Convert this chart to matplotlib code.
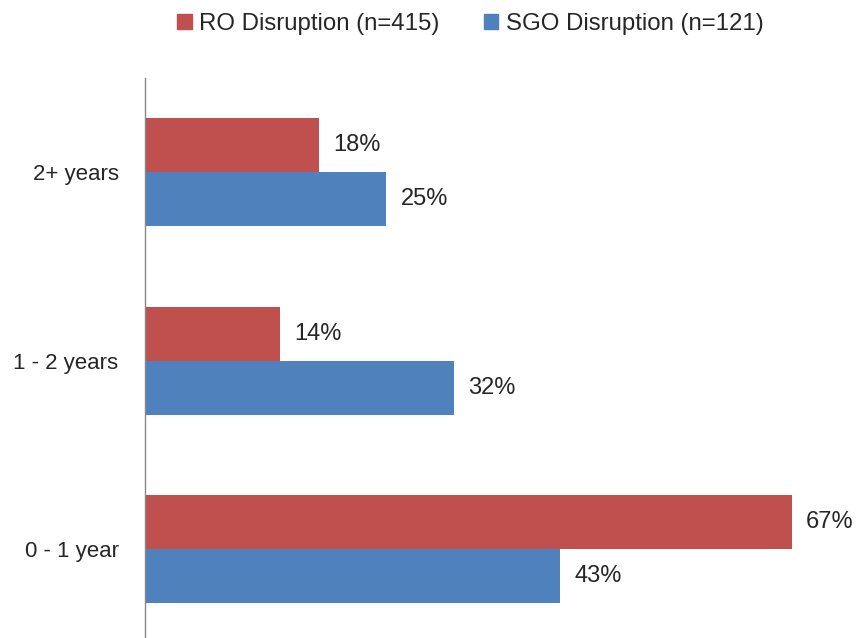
import matplotlib.pyplot as plt
import numpy as np
from matplotlib.patches import Patch

categories = ["0 - 1 year", "1 - 2 years", "2+ years"]
ro_values = [67, 14, 18]
sgo_values = [43, 32, 25]
ro_label = "RO Disruption (n=415)"
sgo_label = "SGO Disruption (n=121)"

RED = "#C0504D"
BLUE = "#4F81BD"
TXT = "#262626"

plt.rcParams["font.family"] = ["Liberation Sans", "DejaVu Sans"]

W, H = 858, 638
fig = plt.figure(figsize=(W / 100, H / 100), dpi=100)
ax = fig.add_axes([145 / W, 0, (850 - 145) / W, (638 - 78) / H])

y = np.arange(len(categories))
h = 0.286
ax.barh(y + h / 2, ro_values, height=h, color=RED, edgecolor="none")
ax.barh(y - h / 2, sgo_values, height=h, color=BLUE, edgecolor="none")

# value labels right of each bar
for yy, v in zip(y + h / 2, ro_values):
    ax.annotate(f"{v}%", (v, yy), xytext=(14, 0), textcoords="offset pixels",
                ha="left", va="center", fontsize=17, color=TXT)
for yy, v in zip(y - h / 2, sgo_values):
    ax.annotate(f"{v}%", (v, yy), xytext=(14, 0), textcoords="offset pixels",
                ha="left", va="center", fontsize=17, color=TXT)

ax.set_xlim(0, 73)
ax.set_ylim(-0.47, 2.5)
ax.set_yticks(y)
ax.set_yticklabels(categories, fontsize=16, color=TXT)
ax.tick_params(axis="y", length=0, pad=19)
ax.set_xticks([])
for s in ["top", "right", "bottom"]:
    ax.spines[s].set_visible(False)
ax.spines["left"].set_color("#888888")
ax.spines["left"].set_linewidth(1)
ax.patch.set_alpha(0)

handles = [Patch(color=RED, label=ro_label), Patch(color=BLUE, label=sgo_label)]
fig.legend(handles=handles, loc="center", bbox_to_anchor=(470 / W, 1 - 24 / H),
           ncol=2, frameon=False, fontsize=17.3, handlelength=0.62, handleheight=0.62,
           handletextpad=0.3, columnspacing=1.85, labelcolor=TXT)

fig.savefig("out.png", dpi=100)
